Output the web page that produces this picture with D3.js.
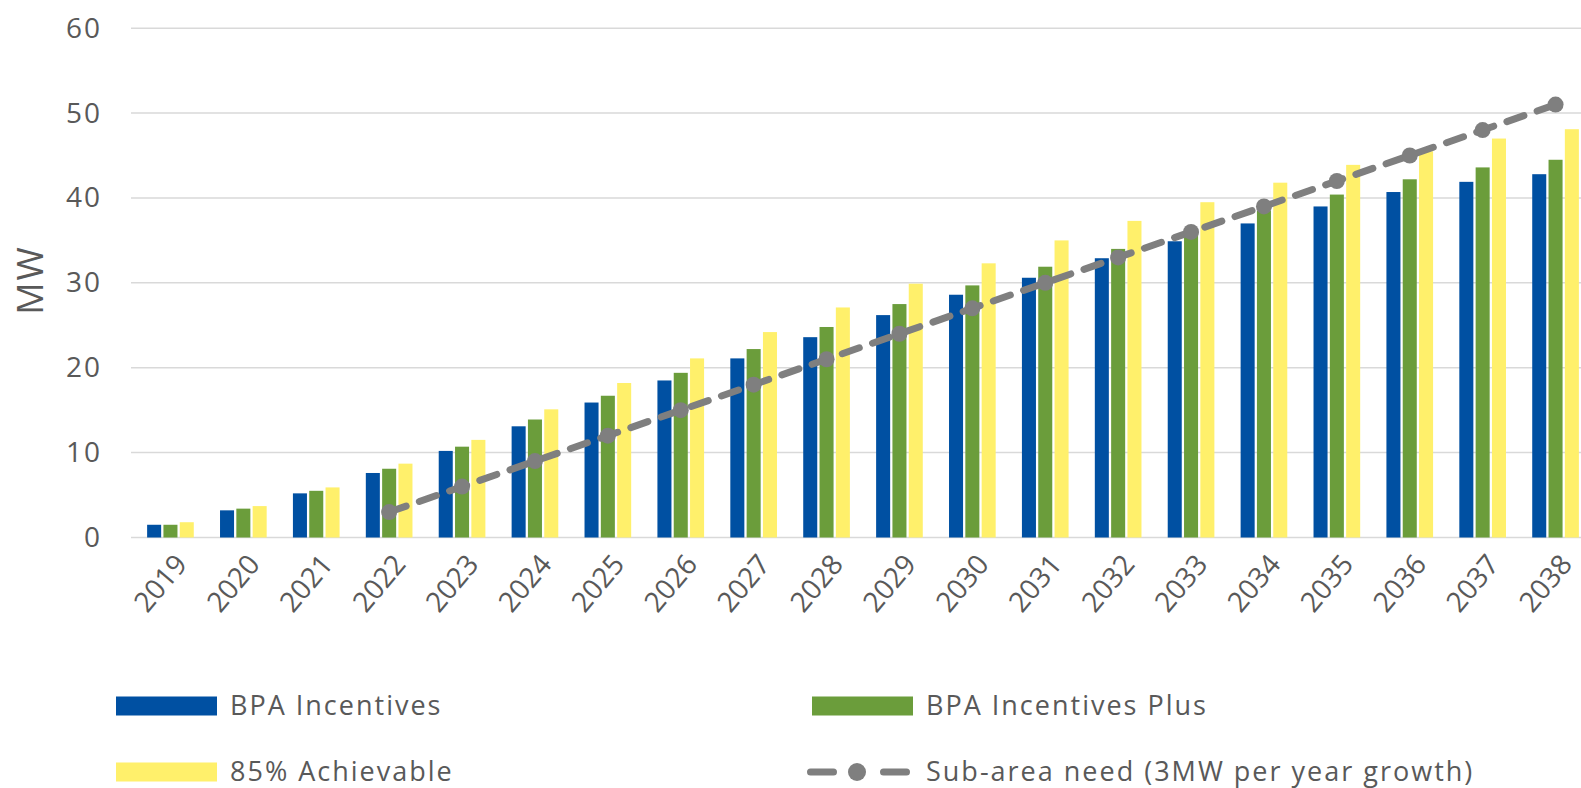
<!DOCTYPE html>
<html>
<head>
<meta charset="utf-8">
<script src="https://cdn.jsdelivr.net/npm/d3@7"></script>
<style>
  body { margin: 0; background: #fff; }
  svg { display: block; font-family: "Open Sans", sans-serif; }
</style>
</head>
<body>
<div class="chart"></div>
<script>
// data
var years = ["2019","2020","2021","2022","2023","2024","2025","2026","2027","2028",
             "2029","2030","2031","2032","2033","2034","2035","2036","2037","2038"];
var bpaIncentives     = [1.5, 3.2, 5.2, 7.6, 10.2, 13.1, 15.9, 18.5, 21.1, 23.6,
                         26.2, 28.6, 30.6, 32.9, 34.9, 37.0, 39.0, 40.7, 41.9, 42.8];
var bpaIncentivesPlus = [1.5, 3.4, 5.5, 8.1, 10.7, 13.9, 16.7, 19.4, 22.2, 24.8,
                         27.5, 29.7, 31.9, 34.0, 36.2, 38.5, 40.4, 42.2, 43.6, 44.5];
var achievable85      = [1.8, 3.7, 5.9, 8.7, 11.5, 15.1, 18.2, 21.1, 24.2, 27.1,
                         29.9, 32.3, 35.0, 37.3, 39.5, 41.8, 43.9, 45.5, 47.0, 48.1];
var needYears = ["2022","2023","2024","2025","2026","2027","2028","2029","2030",
                 "2031","2032","2033","2034","2035","2036","2037","2038"];
var needValues = [3, 6, 9, 12, 15, 18, 21, 24, 27, 30, 33, 36, 39, 42, 45, 48, 51];
var yTicks = [0, 10, 20, 30, 40, 50, 60];

var seriesNames = ["BPA Incentives", "BPA Incentives Plus", "85% Achievable"];
var seriesColors = ["#0050a2", "#6b9d3b", "#fff06b"];
var seriesValues = [bpaIncentives, bpaIncentivesPlus, achievable85];

var W = 1581, H = 788;
var textColor = "#595959";
var grey = "#7f7f7f";

var svg = d3.select("div.chart")
            .append("svg")
            .attr("width", W)
            .attr("height", H);

var x = d3.scaleBand()
          .domain(years)
          .range([134, 134 + 20 * 72.9])
          .paddingInner(0.36)
          .paddingOuter(0.18);

var xInner = d3.scaleBand()
               .domain(seriesNames)
               .range([0, x.bandwidth()])
               .paddingInner(0.14);

var y = d3.scaleLinear()
          .domain([0, 60])
          .range([537.5, 28.2]);

// gridlines
svg.append("g")
   .selectAll("line")
   .data(yTicks)
   .enter()
   .append("line")
   .attr("x1", 131)
   .attr("x2", W)
   .attr("y1", function(d){ return y(d); })
   .attr("y2", function(d){ return y(d); })
   .attr("stroke", "#d9d9d9")
   .attr("stroke-width", 1.5);

// y axis labels
var yAxis = d3.axisLeft(y).tickValues(yTicks).tickSize(0).tickPadding(0);
var yg = svg.append("g")
            .attr("transform", "translate(102,0)")
            .call(yAxis);
yg.select(".domain").remove();
yg.selectAll("text")
  .attr("fill", textColor)
  .style("font-size", "28px")
  .style("letter-spacing", "2px")
  .style("font-family", "Open Sans, sans-serif");

svg.append("text")
   .attr("transform", "translate(43,280) rotate(-90)")
   .attr("text-anchor", "middle")
   .attr("fill", textColor)
   .style("font-size", "36px")
   .style("letter-spacing", "2px")
   .text("MW");

// bars
var groups = svg.append("g")
   .selectAll("g")
   .data(years)
   .enter()
   .append("g")
   .attr("transform", function(d){ return "translate(" + x(d) + ",0)"; });

groups.selectAll("rect")
   .data(function(d, i){
     return seriesNames.map(function(s, j){ return {name: s, value: seriesValues[j][i], color: seriesColors[j]}; });
   })
   .enter()
   .append("rect")
   .attr("x", function(d){ return xInner(d.name); })
   .attr("width", xInner.bandwidth())
   .attr("y", function(d){ return y(d.value); })
   .attr("height", function(d){ return y(0) - y(d.value); })
   .attr("fill", function(d){ return d.color; });

// x labels (rotated)
var xAxis = d3.axisBottom(x).tickSize(0).tickPadding(0);
var xg = svg.append("g")
            .attr("transform", "translate(0,565)")
            .call(xAxis);
xg.select(".domain").remove();
xg.selectAll("text")
  .attr("fill", textColor)
  .style("font-size", "28px")
  .style("font-family", "Open Sans, sans-serif")
  .attr("text-anchor", "end")
  .attr("x", 0)
  .attr("y", 0)
  .attr("dy", 0)
  .attr("transform", "translate(18,0) rotate(-50)");

// need line
var line = d3.line()
             .x(function(d, i){ return x(needYears[i]) + x.bandwidth() / 2; })
             .y(function(d){ return y(d); });

svg.append("path")
   .datum(needValues)
   .attr("d", line)
   .attr("fill", "none")
   .attr("stroke", grey)
   .attr("stroke-width", 7)
   .attr("stroke-linecap", "round")
   .attr("stroke-dasharray", "18,14");

svg.append("g")
   .selectAll("circle")
   .data(needValues)
   .enter()
   .append("circle")
   .attr("cx", function(d, i){ return x(needYears[i]) + x.bandwidth() / 2; })
   .attr("cy", function(d){ return y(d); })
   .attr("r", 8)
   .attr("fill", grey);

// legend
var legend = [
  {name: "BPA Incentives", color: seriesColors[0], x: 116, y: 706, type: "bar"},
  {name: "BPA Incentives Plus", color: seriesColors[1], x: 812, y: 706, type: "bar"},
  {name: "85% Achievable", color: seriesColors[2], x: 116, y: 772, type: "bar"},
  {name: "Sub-area need (3MW per year growth)", color: grey, x: 807, y: 772, type: "line"}
];

var lg = svg.append("g")
   .selectAll("g")
   .data(legend)
   .enter()
   .append("g")
   .attr("transform", function(d){ return "translate(" + d.x + "," + d.y + ")"; });

lg.filter(function(d){ return d.type === "bar"; })
  .append("rect")
  .attr("x", 0)
  .attr("y", -9.5)
  .attr("width", 101)
  .attr("height", 19)
  .attr("fill", function(d){ return d.color; });

var lineLg = lg.filter(function(d){ return d.type === "line"; });
lineLg.append("line")
  .attr("x1", 3.5).attr("x2", 99.5)
  .attr("y1", 0).attr("y2", 0)
  .attr("stroke", grey)
  .attr("stroke-width", 7)
  .attr("stroke-linecap", "round")
  .attr("stroke-dasharray", "23,50");
lineLg.append("circle")
  .attr("cx", 50).attr("cy", 0).attr("r", 9)
  .attr("fill", grey);

lg.append("text")
  .attr("x", function(d){ return d.type === "bar" ? 114 : 119; })
  .attr("y", 0)
  .attr("dy", "0.35em")
  .attr("fill", textColor)
  .style("font-size", "27px")
  .style("letter-spacing", "2px")
  .text(function(d){ return d.name; });
</script>
</body>
</html>
